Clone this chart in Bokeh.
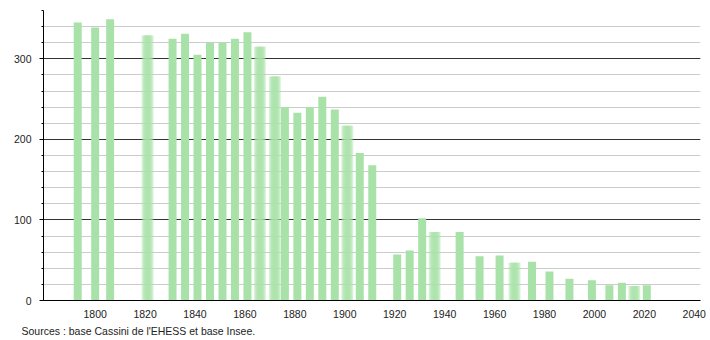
from bokeh.plotting import figure
from bokeh.models import Range1d, SingleIntervalTicker, FixedTicker, Title
from bokeh.embed import file_html
from bokeh.resources import INLINE

years = [1793, 1800, 1806, 1821, 1831, 1836, 1841, 1846, 1851, 1856, 1861, 1866,
         1872, 1876, 1881, 1886, 1891, 1896, 1901, 1906, 1911, 1921, 1926, 1931,
         1936, 1946, 1954, 1962, 1968, 1975, 1982, 1990, 1999, 2006, 2011, 2016, 2021]
population = [345, 339, 349, 329, 325, 331, 305, 320, 320, 325, 333, 315,
              278, 240, 233, 240, 253, 237, 217, 183, 168, 57, 62, 102,
              85, 85, 55, 56, 47, 48, 36, 27, 25, 19, 22, 18, 19]
blurred_years = [1821, 1866, 1872, 1901, 1936, 1968, 2016]
x_tick_years = [1800, 1820, 1840, 1860, 1880, 1900, 1920, 1940, 1960, 1980, 2000, 2020, 2040]

source_text = "Sources : base Cassini de l'EHESS et base Insee."

FONT = "Liberation Sans"
FS = "10.5px"
BAR = "#a9e2a9"

p = figure(width=710, height=340, output_backend="svg", toolbar_location=None,
           x_range=Range1d(1779.3, 2042.5), y_range=Range1d(0, 360),
           min_border_left=43, min_border_right=10, min_border_top=10,
           min_border_bottom=40, outline_line_color=None,
           background_fill_color="white", border_fill_color="white")

sharp_x = [y for y in years if y not in blurred_years]
sharp_v = [v for y, v in zip(years, population) if y not in blurred_years]
blur_x = [y for y in years if y in blurred_years]
blur_v = [v for y, v in zip(years, population) if y in blurred_years]

p.vbar(x=sharp_x, top=sharp_v, width=3.2, bottom=0, fill_color=BAR, line_color=None)
for w in [1.6, 2.4, 3.2, 4.0, 4.8]:
    p.vbar(x=blur_x, top=blur_v, width=w, bottom=0, fill_color=BAR,
           fill_alpha=0.42, line_color=None)

# y axis
p.yaxis.ticker = SingleIntervalTicker(interval=100, num_minor_ticks=5)
p.yaxis.axis_line_color = "black"
p.yaxis.major_tick_line_color = "black"
p.yaxis.minor_tick_line_color = "black"
p.yaxis.major_tick_out = 4
p.yaxis.major_tick_in = 0
p.yaxis.minor_tick_out = 2
p.yaxis.minor_tick_in = 0
p.yaxis.major_label_standoff = 8
p.yaxis.major_label_text_font = FONT
p.yaxis.major_label_text_font_size = FS
p.yaxis.major_label_text_color = "#222222"

p.ygrid.grid_line_color = "#333333"
p.ygrid.grid_line_width = 1
p.ygrid.minor_grid_line_color = "#cccccc"
p.ygrid.minor_grid_line_width = 1

# x axis
p.xaxis.ticker = FixedTicker(ticks=x_tick_years)
p.xaxis.axis_line_color = "black"
p.xaxis.major_tick_line_color = None
p.xaxis.minor_tick_line_color = None
p.xaxis.major_label_standoff = 3
p.xaxis.major_label_text_font = FONT
p.xaxis.major_label_text_font_size = FS
p.xaxis.major_label_text_color = "#222222"
p.xgrid.grid_line_color = None

p.add_layout(Title(text=source_text, text_font=FONT, text_font_size=FS,
                   text_font_style="normal", text_color="#222222",
                   align="left", offset=-22, standoff=4), "below")

open("out.html", "w").write(file_html(p, INLINE))
